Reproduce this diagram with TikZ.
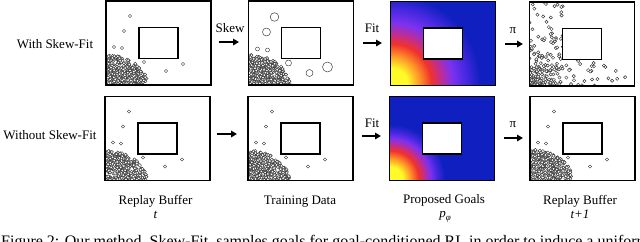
\documentclass[tikz,border=0pt]{standalone}
\usepackage{fontspec}
\setmainfont{Liberation Serif}
\usetikzlibrary{arrows.meta}

\definecolor{hmY}{RGB}{255,250,40}
\definecolor{hmO}{RGB}{255,150,40}
\definecolor{hmR}{RGB}{240,50,45}
\definecolor{hmM}{RGB}{190,45,150}
\definecolor{hmP}{RGB}{125,50,240}
\definecolor{hmV}{RGB}{70,40,225}
\definecolor{hmB}{RGB}{16,32,192}

% concentric discs blending colour #4 (at radius #2) to colour #5 (at radius #3)
\newcommand\heatseg[5]{%
  \foreach \j in {0,...,12}{
    \pgfmathsetmacro\myr{#3-(#3-#2)*\j/12}
    \pgfmathtruncatemacro\mypc{100*\j/12}
    \fill[#4!\mypc!#5] (#1) circle[radius=\myr bp];
  }}
\newcommand\mycluster[4]{%
  \begin{scope}[shift={(#1.south west)}]
    \foreach \k in {1,...,#4}{
      \pgfmathsetmacro\myrad{sqrt(rnd)}
      \pgfmathsetmacro\myang{90*rnd}
      \draw[pebble] ({#2*\myrad*cos(\myang)},{-#3*\myrad*sin(\myang)}) circle[radius=1.6bp];
    }
  \end{scope}}
\newcommand\myspread[3]{%
  \begin{scope}[shift={(#1.south west)}]
    \foreach \k in {1,...,#3}{
      \pgfmathsetmacro\myrad{#2*pow(rnd,1.8)}
      \pgfmathsetmacro\myang{90*rnd}
      \pgfmathsetmacro\myx{\myrad*cos(\myang)}
      \pgfmathsetmacro\myy{\myrad*sin(\myang)}
      \pgfmathtruncatemacro\myhide{and(\myx>36,\myy>27)}
      \ifnum\myhide=0
        \draw[pebble] (\myx,-\myy) circle[radius=1.6bp];
      \fi
    }
  \end{scope}}
\newcommand\myscatter[1]{%
  \begin{scope}[shift={(#1.north west)}]
    \foreach \px/\py in {24/15,18/30,8/46,16/47,38/61,60/70,77/63}
      \draw[pebble] (\px,\py) circle[radius=1.6bp];
  \end{scope}}
\newcommand\myframe[1]{%
  \draw[line width=1.1bp] (#1.north west) rectangle (#1.south east);
  \node[obstacle] (o#1) at (#1) {};}

\begin{document}
\begin{tikzpicture}[x=1bp,y=-1bp,
  font=\fontsize{13bp}{15bp}\selectfont,
  panel/.style={minimum width=105bp, minimum height=84bp, inner sep=0pt, outer sep=0pt},
  obstacle/.style={draw, fill=white, line width=1.1bp, minimum width=39bp, minimum height=31bp, inner sep=0pt},
  pebble/.style={draw=black!80, fill=white, line width=0.45bp},
  flow/.style={-{Triangle[length=6bp,width=6.5bp]}, line width=1.8bp},
  lbl/.style={inner sep=0pt}]
\useasboundingbox (0,0) rectangle (640,241);
\pgfmathsetseed{7}

% panels
\path node[panel] (p1t) at (158.5,43) {}
      node[panel] (p2t) at (301,43) {}
      node[panel] (p3t) at (443,43.5) {}
      node[panel] (p4t) at (582,44) {}
      node[panel] (p1b) at (157.5,138.5) {}
      node[panel] (p2b) at (300.5,138.5) {}
      node[panel] (p3b) at (442,138.5) {}
      node[panel] (p4b) at (582.5,138.5) {};

% top row contents
\begin{scope}
  \clip (p1t.north west) rectangle (p1t.south east);
  \mycluster{p1t}{42}{30}{320}
  \myscatter{p1t}
\end{scope}
\myframe{p1t}

\begin{scope}
  \clip (p2t.north west) rectangle (p2t.south east);
  \mycluster{p2t}{42}{30}{320}
  \begin{scope}[shift={(p2t.north west)}]
    \draw[pebble] (26,16) circle[radius=4.3bp];
    \draw[pebble] (18,31) circle[radius=4bp];
    \draw[pebble] (9,48) circle[radius=2bp];
    \draw[pebble] (19,49) circle[radius=2bp];
    \draw[pebble] (40,62) circle[radius=3bp];
    \draw[pebble] (61,72) circle[radius=3.5bp];
    \draw[pebble] (79,66) circle[radius=5bp];
  \end{scope}
\end{scope}
\myframe{p2t}

\begin{scope}
  \clip (p3t.north west) rectangle (p3t.south east);
  \fill[hmB] (p3t.north west) rectangle (p3t.south east);
  \coordinate (h3t) at ([shift={(1,-1)}]p3t.south west);
  \heatseg{h3t}{76}{90}{hmV}{hmB}
  \heatseg{h3t}{62}{76}{hmP}{hmV}
  \heatseg{h3t}{51}{62}{hmM}{hmP}
  \heatseg{h3t}{41}{51}{hmR}{hmM}
  \heatseg{h3t}{29}{41}{hmO}{hmR}
  \heatseg{h3t}{17}{29}{hmY}{hmO}
\end{scope}
\myframe{p3t}

\begin{scope}
  \clip (p4t.north west) rectangle (p4t.south east);
  \myspread{p4t}{98}{300}
\end{scope}
\myframe{p4t}

% bottom row contents
\begin{scope}
  \clip (p1b.north west) rectangle (p1b.south east);
  \mycluster{p1b}{42}{30}{320}
  \myscatter{p1b}
\end{scope}
\myframe{p1b}

\begin{scope}
  \clip (p2b.north west) rectangle (p2b.south east);
  \mycluster{p2b}{42}{30}{320}
  \myscatter{p2b}
\end{scope}
\myframe{p2b}

\begin{scope}
  \clip (p3b.north west) rectangle (p3b.south east);
  \fill[hmB] (p3b.north west) rectangle (p3b.south east);
  \coordinate (h3b) at ([shift={(1,-1)}]p3b.south west);
  \heatseg{h3b}{47}{55}{hmV}{hmB}
  \heatseg{h3b}{41}{47}{hmP}{hmV}
  \heatseg{h3b}{35}{41}{hmM}{hmP}
  \heatseg{h3b}{29}{35}{hmR}{hmM}
  \heatseg{h3b}{21}{29}{hmO}{hmR}
  \heatseg{h3b}{13}{21}{hmY}{hmO}
\end{scope}
\myframe{p3b}

\begin{scope}
  \clip (p4b.north west) rectangle (p4b.south east);
  \mycluster{p4b}{43}{31}{320}
  \myscatter{p4b}
\end{scope}
\myframe{p4b}

% row labels
\node (rowA) at (55,44) {With Skew-Fit};
\node (rowB) at (50,135) {Without Skew-Fit};

% arrows and their labels
\coordinate (a1s) at (219,42);  \coordinate (a1e) at (239,42);
\coordinate (a2s) at (363,43);  \coordinate (a2e) at (382,43);
\coordinate (a3s) at (505,44);  \coordinate (a3e) at (523,44);
\coordinate (b1s) at (217,134); \coordinate (b1e) at (237,134);
\coordinate (b2s) at (362,136); \coordinate (b2e) at (381,136);
\coordinate (b3s) at (504,138); \coordinate (b3e) at (523,138);
\draw[flow] (a1s) -- (a1e);
\draw[flow] (a2s) -- (a2e);
\draw[flow] (a3s) -- (a3e);
\draw[flow] (b1s) -- (b1e);
\draw[flow] (b2s) -- (b2e);
\draw[flow] (b3s) -- (b3e);
\node[lbl] (lskew) at (230,28) {Skew};
\node[lbl] (lfit1) at (372,28) {Fit};
\node[lbl] (lpi1) at (513,31) {π};
\node[lbl] (lfit2) at (372,123) {Fit};
\node[lbl] (lpi2) at (513,125) {π};

% captions
\node[lbl, anchor=base] (c1) at (155.5,204) {Replay Buffer};
\node[lbl, anchor=base] (c1t) at (155.5,218) {\itshape t};
\node[lbl, anchor=base] (c2) at (300,204) {Training Data};
\node[lbl, anchor=base] (c3) at (444,203) {Proposed Goals};
\node[lbl, anchor=base] (c3p) at (445,217) {\itshape p\raisebox{-3bp}{\fontsize{9bp}{9bp}\selectfont φ}};
\node[lbl, anchor=base] (c4) at (580,204) {Replay Buffer};
\node[lbl, anchor=base] (c4t) at (580,218) {\itshape t+1};

% figure caption (cut by the picture's lower edge, as in the reference)
\node[lbl, anchor=base west, font=\fontsize{16bp}{18bp}\selectfont] (figcap) at (1,246.5)
  {Figure 2: Our method, Skew-Fit, samples goals for goal-conditioned RL in order to induce a uniform};
\end{tikzpicture}
\end{document}
